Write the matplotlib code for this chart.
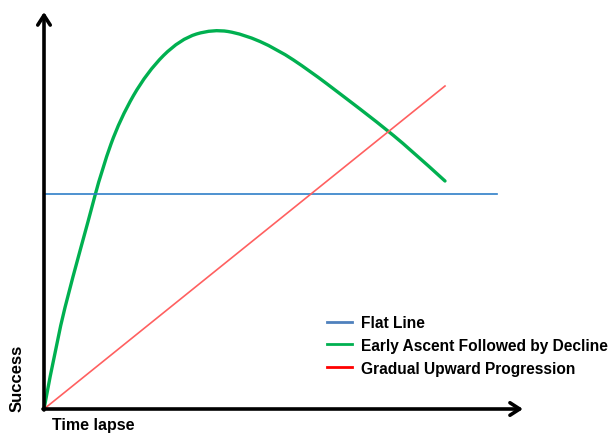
import matplotlib.pyplot as plt
from matplotlib.lines import Line2D
from matplotlib.path import Path
from matplotlib.patches import PathPatch

# values (arbitrary units, origin at bottom-left)
green_x = [0, 13, 29, 44, 58, 76, 103, 136, 169, 199, 233, 266, 299, 333, 366, 401]
green_y = [0, 70, 133, 187, 240, 290, 337, 370, 380, 375, 360, 338, 313, 287, 260, 228]
red_x = [0, 401]
red_y = [0, 323]
flat_x = [0, 453]
flat_y = [215, 215]

labels = ['Flat Line', 'Early Ascent Followed by Decline', 'Gradual Upward Progression']
legend_colors = ['#4F81BD', '#00B050', '#FF0000']

W, H = 613, 435
fig = plt.figure(figsize=(W / 100, H / 100), dpi=100)
ax = fig.add_axes([44 / W, 25 / H, 479 / W, 397 / H])
ax.set_xlim(0, 479)
ax.set_ylim(0, 397)
ax.axis('off')

ax.plot(flat_x, flat_y, color='#2F7FC8', lw=1.2, clip_on=False)
ax.plot(red_x, red_y, color='#FF6060', lw=1.2, clip_on=False)

# smooth green curve: read points used as quadratic bezier control points
pts = list(zip(green_x, green_y))
verts = [pts[0]]
codes = [Path.MOVETO]
for i in range(1, len(pts) - 1):
    if i == len(pts) - 2:
        nxt = pts[i + 1]
    else:
        nxt = ((pts[i][0] + pts[i + 1][0]) / 2, (pts[i][1] + pts[i + 1][1]) / 2)
    verts += [pts[i], nxt]
    codes += [Path.CURVE3, Path.CURVE3]
ax.add_patch(PathPatch(Path(verts, codes), fill=False, edgecolor='#00B050', lw=2.4,
                       capstyle='round', clip_on=False))

# axis arrows
arrow = dict(arrowstyle='->,head_length=0.7,head_width=0.45', lw=2.6, color='black',
             shrinkA=0, shrinkB=0)
ax.annotate('', xy=(479, 0), xytext=(-1, 0), arrowprops=arrow, annotation_clip=False)
ax.annotate('', xy=(0, 397), xytext=(0, -1), arrowprops=arrow, annotation_clip=False)

font = dict(family='Liberation Sans', fontweight='bold')
fig.text(17 / W, 1 - 378 / H, 'Success', rotation=90, ha='center', va='center',
         fontsize=12, **font)
fig.text(52 / W, 1 - 426 / H, 'Time lapse', ha='left', va='center', fontsize=11.5, **font)

handles = [Line2D([], [], color=c, lw=2) for c in legend_colors]
fig.legend(handles, labels, loc='upper left', bbox_to_anchor=(327 / W, 1 - 316 / H),
           frameon=False, prop=dict(family='Liberation Sans', weight='bold', size=11.2),
           handlelength=1.6, handletextpad=0.6, labelspacing=0.5,
           borderpad=0, borderaxespad=0)

fig.savefig('out.png', dpi=100)
